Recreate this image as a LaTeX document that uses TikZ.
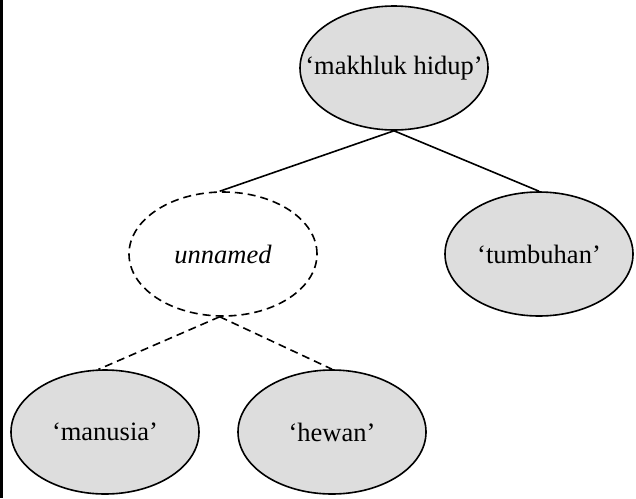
\documentclass[tikz,border=0pt]{standalone}
\usepackage{fontspec}
\setmainfont{Liberation Serif}
\usetikzlibrary{shapes.geometric}
\definecolor{nodegray}{HTML}{DDDDDD}
\tikzset{
  concept/.style={ellipse, draw=black, line width=1.6pt, fill=nodegray,
    minimum width=188pt, minimum height=124pt, inner sep=0pt},
  hidden/.style={ellipse, draw=black, line width=1.6pt, dash pattern=on 8pt off 5pt,
    minimum width=188pt, minimum height=124pt, inner sep=0pt},
  nodetext/.style={font=\fontsize{26.5}{30}\selectfont},
  link/.style={line width=1.6pt},
  dlink/.style={line width=1.6pt, dash pattern=on 8pt off 5pt}
}
\begin{document}
\begin{tikzpicture}[x=1pt,y=-1pt]
\useasboundingbox (0,0) rectangle (636,498);
\fill[black] (0,0) rectangle (2.5,498);
\node[concept, label={[nodetext]center:‘makhluk hidup’}] (root) at (394,68) {};
\node[hidden, label={[nodetext, font=\fontsize{26.5}{30}\selectfont\itshape]center:unnamed}] (un) at (223,254) {};
\node[concept, label={[nodetext]center:‘tumbuhan’}] (tum) at (539,254) {};
\node[concept, label={[nodetext]center:‘manusia’}] (man) at (105,432) {};
\node[concept, label={[nodetext]center:‘hewan’}] (hew) at (332,432) {};
\draw[link] (root.south) -- (un.93);
\draw[link] (root.south) -- (tum.north);
\draw[dlink] (un.267) -- (man.96);
\draw[dlink] (un.267) -- (hew.north);
\end{tikzpicture}
\end{document}
